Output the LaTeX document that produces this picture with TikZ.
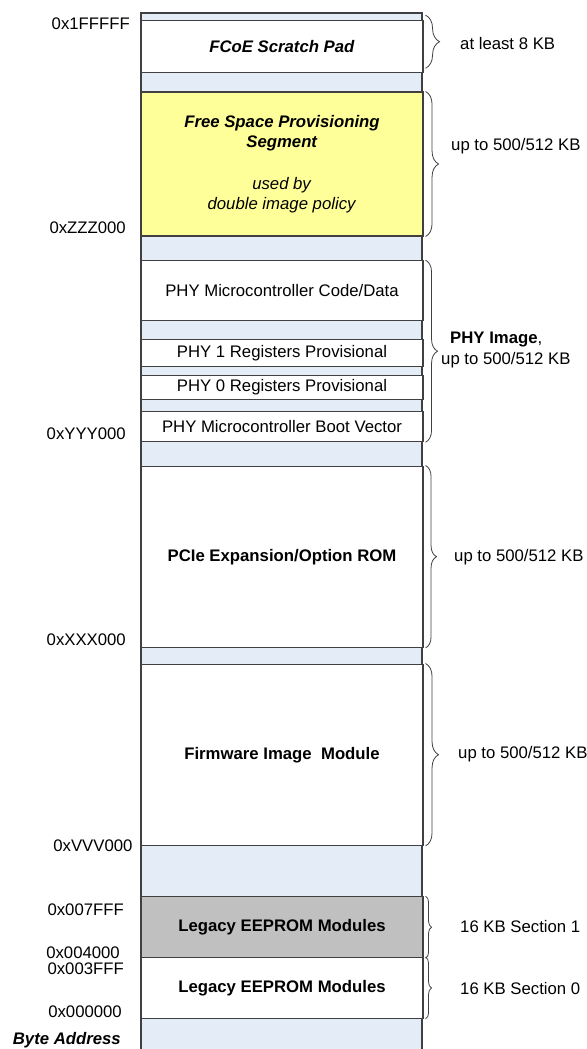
\documentclass[tikz,border=0pt]{standalone}
\usepackage{fontspec}
\setmainfont{Liberation Sans}
\usepackage{tikz}
\usetikzlibrary{decorations.pathreplacing}
\definecolor{mapblue}{RGB}{228,236,247}
\definecolor{mapyellow}{RGB}{255,255,153}
\definecolor{mapgray}{RGB}{192,192,192}
\definecolor{mapline}{RGB}{64,64,64}
\tikzstyle{region} = [draw=mapline, line width=1.1bp, fill=white, minimum width=282bp, inner sep=0pt, align=center]
\tikzstyle{addr} = [anchor=east, inner sep=0pt]
\tikzstyle{sizelabel} = [anchor=west, inner sep=0pt, align=left]
\tikzset{sizebrace/.style={decorate, decoration={brace, amplitude=#1, raise=2bp}, draw=mapline, line width=0.8bp}}

\begin{document}
\begin{tikzpicture}[x=1bp, y=-1bp, font=\fontsize{16.8}{20}\selectfont]
\useasboundingbox (0,0) rectangle (587,1049);
% Memory column
\fill[mapblue] (141,13) rectangle (422,1049);
\draw[mapline, line width=1.1bp] (141,1049) -- (141,13) -- (422,13) -- (422,1049);

% Regions
\node[region, minimum height=52bp] (fcoe) at (282,46.7) {\textbf{\textit{FCoE Scratch Pad}}};
\node[region, fill=mapyellow, minimum height=144bp] (fsp) at (282,164) {\textbf{\textit{Free Space Provisioning}}\\ \textbf{\textit{Segment}}\\[22bp] \textit{used by}\\ \textit{double image policy}};
\node[region, minimum height=60bp] (phycode) at (282,290.7) {PHY Microcontroller Code/Data};
\node[region, minimum height=26.7bp] (phyone) at (282,352.7) {PHY 1 Registers Provisional};
\node[region, minimum height=24.3bp] (phyzero) at (282,387.2) {PHY 0 Registers Provisional};
\node[region, minimum height=30bp] (phyboot) at (282,426.7) {PHY Microcontroller Boot Vector};
\node[region, minimum height=181.3bp] (pcie) at (282,556.7) {\textbf{PCIe Expansion/Option ROM}};
\node[region, minimum height=181.3bp] (fw) at (282,754.7) {\textbf{Firmware Image\ \ Module}};
\node[region, fill=mapgray, minimum height=61bp] (legone) at (282,927.2) {\textbf{Legacy EEPROM Modules}};
\node[region, minimum height=60.6bp] (legzero) at (282,988) {\textbf{Legacy EEPROM Modules}};

% Addresses
\node[addr] (aTop) at (130,24) {0x1FFFFF};
\node[addr] (aZ) at (126,228) {0xZZZ000};
\node[addr] (aY) at (126,433.3) {0xYYY000};
\node[addr] (aX) at (126,640) {0xXXX000};
\node[addr] (aV) at (132.7,845.7) {0xVVV000};
\node[addr] (aS1hi) at (124,909.3) {0x007FFF};
\node[addr] (aS1lo) at (120,952.5) {0x004000};
\node[addr] (aS0hi) at (124,968.5) {0x003FFF};
\node[addr] (aS0lo) at (122,1011.7) {0x000000};
\node[addr] (aTitle) at (121,1040) {\textbf{\textit{Byte Address}}};

% Sizes
\draw[sizebrace=14bp] ([yshift=5bp]fcoe.north east) -- ([yshift=5bp]fcoe.south east);
\node[sizelabel] (sFcoe) at (460,43.3) {at least 8 KB};
\draw[sizebrace=13bp] (fsp.north east) -- (fsp.south east);
\node[sizelabel] (sFsp) at (451,145.7) {up to 500/512 KB};
\draw[sizebrace=12bp] (phycode.north east) -- (phyboot.south east);
\node[sizelabel] (sPhyA) at (450,339.3) {\textbf{PHY Image},};
\node[sizelabel] (sPhyB) at (441,360) {up to 500/512 KB};
\draw[sizebrace=11bp] (pcie.north east) -- (pcie.south east);
\node[sizelabel] (sPcie) at (454,556.7) {up to 500/512 KB};
\draw[sizebrace=13bp] (fw.north east) -- (fw.south east);
\node[sizelabel] (sFw) at (458,754) {up to 500/512 KB};
\draw[sizebrace=6bp] (legone.north east) -- (legone.south east);
\node[sizelabel] (sLegone) at (460,926.7) {16 KB Section 1};
\draw[sizebrace=6bp] (legzero.north east) -- (legzero.south east);
\node[sizelabel] (sLegzero) at (460,988.3) {16 KB Section 0};
\end{tikzpicture}
\end{document}
